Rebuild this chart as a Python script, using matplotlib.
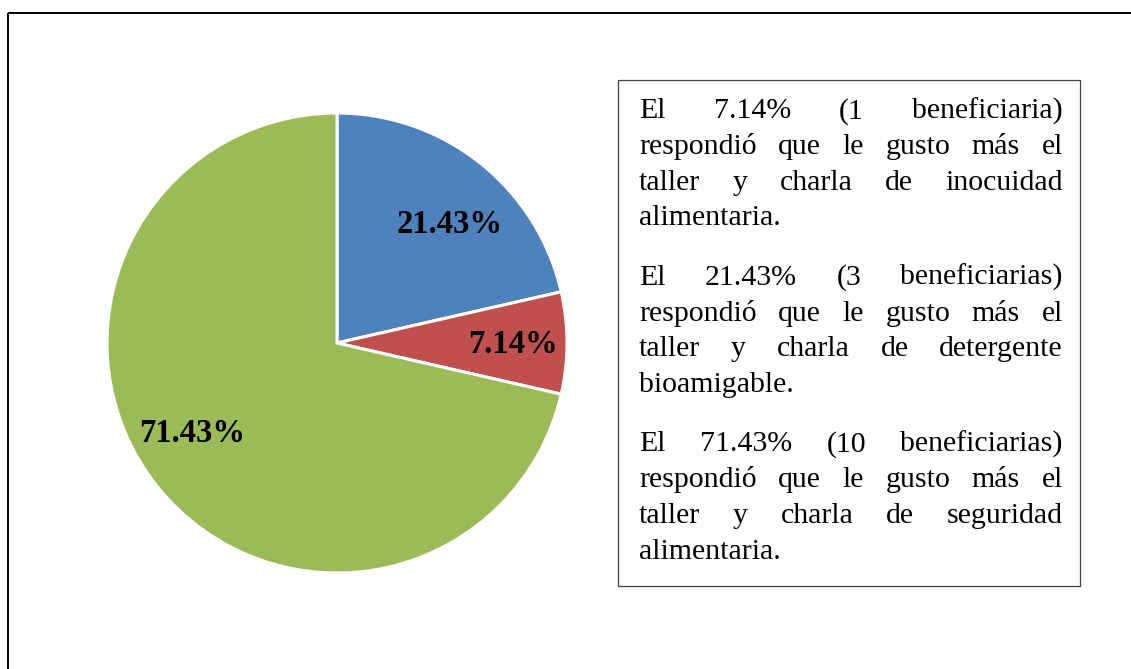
import numpy as np
import matplotlib
matplotlib.use('Agg')
import matplotlib.pyplot as plt
from matplotlib.patches import Rectangle

# ---- data ----
categories = ['Taller y charla de inocuidad alimentaria',
              'Taller y charla de detergente bioamigable',
              'Taller y charla de seguridad alimentaria']
counts = [3, 1, 10]
colors = ['#4F81BD', '#C0504D', '#9BBB59']

paragraph_1 = ["El 7.14% (1 beneficiaria)",
               "respondió que le gusto más el",
               "taller y charla de inocuidad",
               "alimentaria."]
paragraph_2 = ["El 21.43% (3 beneficiarias)",
               "respondió que le gusto más el",
               "taller y charla de detergente",
               "bioamigable."]
paragraph_3 = ["El 71.43% (10 beneficiarias)",
               "respondió que le gusto más el",
               "taller y charla de seguridad",
               "alimentaria."]
paragraphs = [paragraph_1, paragraph_2, paragraph_3]

# label placement (best-fit style): angle shift (deg) and radial distance
label_shift = [-5.0, -0.6, -6.6]
label_dist = [0.71, 0.765, 0.745]

# ---- figure ----
W, H = 1131, 669
fig = plt.figure(figsize=(W / 100, H / 100), dpi=100)
fig.patch.set_facecolor('white')

bg = fig.add_axes([0, 0, 1, 1])
bg.set_xlim(0, W)
bg.set_ylim(H, 0)
bg.axis('off')

# outer frame (extends past right and bottom edges)
bg.add_patch(Rectangle((7.5, 12.5), W, H, fill=False, ec='black', lw=1.4))
# text box
bg.add_patch(Rectangle((618, 80), 462, 506, fill=False, ec='#404040', lw=0.9))

# ---- pie ----
cx, cy, r = 337, 343, 230
ax = fig.add_axes([(cx - r) / W, (H - cy - r) / H, 2 * r / W, 2 * r / H])
wedges, texts, autotexts = ax.pie(
    counts, colors=colors, startangle=90, counterclock=False,
    autopct='%.2f%%', pctdistance=0.74,
    wedgeprops=dict(edgecolor='white', linewidth=2.2),
    textprops=dict(fontsize=23.5, fontweight='bold', family='Liberation Serif',
                   color='black'))
for w, t, sh, d in zip(wedges, autotexts, label_shift, label_dist):
    mid = np.deg2rad((w.theta1 + w.theta2) / 2 + sh)
    t.set_position((d * np.cos(mid), d * np.sin(mid)))
ax.set_xlim(-1, 1)
ax.set_ylim(-1, 1)
ax.set_aspect('equal')

# ---- justified text ----
renderer = fig.canvas.get_renderer()
fs = 21.5
font = dict(fontsize=fs, family='Liberation Serif', color='black', va='baseline', ha='left')
x_left, x_right = 639, 1063
y = 118.3
step = 35.7
para_gap = 59.5

space_t = bg.text(0, 0, 'a a', **font)
a_t = bg.text(0, 0, 'aa', **font)
space_w = space_t.get_window_extent(renderer).width - a_t.get_window_extent(renderer).width
space_t.remove()
a_t.remove()

for pi, para in enumerate(paragraphs):
    for li, line in enumerate(para):
        words = line.split(' ')
        tobjs = [bg.text(0, y, w, **font) for w in words]
        widths = [t.get_window_extent(renderer).width for t in tobjs]
        last = (li == len(para) - 1)
        if last or len(words) == 1:
            gap = space_w
        else:
            gap = (x_right - x_left - sum(widths)) / (len(words) - 1)
        x = x_left
        for t, wdt in zip(tobjs, widths):
            t.set_x(x)
            x += wdt + gap
        y += step
    y += para_gap - step

fig.savefig('out.png', dpi=100, facecolor='white')
